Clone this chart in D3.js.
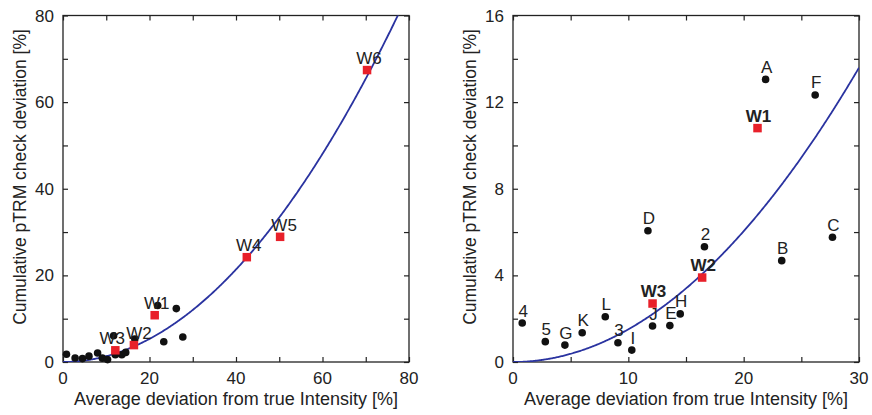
<!DOCTYPE html>
<html>
<head>
<meta charset="utf-8">
<script src="https://cdn.jsdelivr.net/npm/d3@7"></script>
<style>
  html, body { margin: 0; padding: 0; background: #fff; }
  svg { display: block; font-family: "Liberation Sans", Arial, sans-serif; }
</style>
</head>
<body>
<svg id="chart" width="872" height="415"></svg>
<script>
// Reference specimens: average deviation from true intensity (%) and cumulative pTRM check deviation (%)
const specimenNames = ["4", "5", "G", "K", "L", "3", "I", "D", "J", "E", "H", "2", "A", "B", "F", "C"];
const specimenX = [0.8, 2.8, 4.5, 6.0, 8.0, 9.1, 10.3, 11.7, 12.1, 13.6, 14.5, 16.6, 21.9, 23.3, 26.2, 27.7];
const specimenY = [1.8, 0.94, 0.78, 1.35, 2.09, 0.89, 0.55, 6.06, 1.66, 1.68, 2.22, 5.32, 13.05, 4.68, 12.33, 5.76];

// W samples
const wNames = ["W1", "W2", "W3", "W4", "W5", "W6"];
const wX = [21.2, 16.4, 12.1, 42.5, 50.2, 70.3];
const wY = [10.8, 3.9, 2.7, 24.2, 28.9, 67.4];

// Power-law fits y = a * x^b for each panel
const fitLeft = { a: 0.01335, b: 2.0 };
const fitRight = { a: 0.0151, b: 2.0 };

// Axis tick values
const leftXTicks = [0, 20, 40, 60, 80];
const leftYTicks = [0, 20, 40, 60, 80];
const rightXTicks = [0, 10, 20, 30];
const rightYTicks = [0, 4, 8, 12, 16];

const xTitle = "Average deviation from true Intensity [%]";
const yTitle = "Cumulative pTRM check deviation [%]";

const svg = d3.select("#chart");

function panel(opts) {
  const { left, right, top, bottom, xMax, yMax, xTicks, yTicks, xMinorStep, yMinorStep,
          fit, wIdx, clipId } = opts;
  const x = d3.scaleLinear().domain([0, xMax]).range([left, right]);
  const y = d3.scaleLinear().domain([0, yMax]).range([bottom, top]);
  const g = svg.append("g");

  g.append("clipPath").attr("id", clipId)
    .append("rect").attr("x", left).attr("y", top)
    .attr("width", right - left).attr("height", bottom - top);

  // tick marks on all four sides, pointing inward
  const tickLen = 5;
  const xAll = d3.range(0, xMax + 1e-9, xMinorStep);
  const yAll = d3.range(0, yMax + 1e-9, yMinorStep);
  const axB = d3.axisBottom(x).tickValues(xAll).tickSizeInner(-tickLen).tickSizeOuter(0).tickFormat("");
  const axT = d3.axisTop(x).tickValues(xAll).tickSizeInner(-tickLen).tickSizeOuter(0).tickFormat("");
  const axL = d3.axisLeft(y).tickValues(yAll).tickSizeInner(-tickLen).tickSizeOuter(0).tickFormat("");
  const axR = d3.axisRight(y).tickValues(yAll).tickSizeInner(-tickLen).tickSizeOuter(0).tickFormat("");
  [[axB, `translate(0,${bottom})`], [axT, `translate(0,${top})`],
   [axL, `translate(${left},0)`], [axR, `translate(${right},0)`]].forEach(([ax, tr]) => {
    const a = g.append("g").attr("transform", tr).call(ax);
    a.select(".domain").remove();
    a.selectAll(".tick line").attr("stroke", "#222").attr("stroke-width", 1.2);
  });

  // tick labels
  g.selectAll(".xl").data(xTicks).join("text")
    .attr("x", d => x(d)).attr("y", bottom + 21.5)
    .attr("text-anchor", "middle").attr("font-size", 17).attr("fill", "#222")
    .text(d => d);
  g.selectAll(".yl").data(yTicks).join("text")
    .attr("x", left - 9).attr("y", d => y(d) + 6)
    .attr("text-anchor", "end").attr("font-size", 17).attr("fill", "#222")
    .text(d => d);

  // frame
  g.append("rect").attr("x", left).attr("y", top)
    .attr("width", right - left).attr("height", bottom - top)
    .attr("fill", "none").attr("stroke", "#222").attr("stroke-width", 1.3);

  // fitted curve
  const xs = d3.range(0, xMax + 1e-9, xMax / 400);
  const line = d3.line().x(d => x(d)).y(d => y(fit.a * Math.pow(d, fit.b)));
  g.append("path").datum(xs).attr("d", line)
    .attr("clip-path", `url(#${clipId})`)
    .attr("fill", "none").attr("stroke", "#2a33a0").attr("stroke-width", 1.8);

  // specimen dots
  g.selectAll(".dot").data(specimenX).join("circle")
    .attr("cx", d => x(d)).attr("cy", (d, i) => y(specimenY[i]))
    .attr("r", 3.8).attr("fill", "#111");

  // W squares
  const sq = 8.5;
  g.selectAll(".sq").data(wIdx).join("rect")
    .attr("x", i => x(wX[i]) - sq / 2).attr("y", i => y(wY[i]) - sq / 2)
    .attr("width", sq).attr("height", sq).attr("fill", "#e8202a");

  return { x, y, g };
}

// Left panel: all W samples, only W points labelled
const L = panel({
  left: 63, right: 409, top: 15.5, bottom: 362,
  xMax: 80, yMax: 80, xTicks: leftXTicks, yTicks: leftYTicks,
  xMinorStep: 10, yMinorStep: 10, fit: fitLeft,
  wIdx: [0, 1, 2, 3, 4, 5], clipId: "clipL"
});
const leftWOffsets = { W1: 2, W2: 5, W3: -3, W4: 2, W5: 4, W6: 2 };
L.g.selectAll(".wl").data([0, 1, 2, 3, 4, 5]).join("text")
  .attr("x", i => L.x(wX[i]) + leftWOffsets[wNames[i]])
  .attr("y", i => L.y(wY[i]) - 6)
  .attr("text-anchor", "middle").attr("font-size", 17).attr("fill", "#222")
  .text(i => wNames[i]);

// Right panel: specimens up to 30 %, labelled, plus W1–W3
const R = panel({
  left: 513, right: 859, top: 15.5, bottom: 362,
  xMax: 30, yMax: 16, xTicks: rightXTicks, yTicks: rightYTicks,
  xMinorStep: 5, yMinorStep: 2, fit: fitRight,
  wIdx: [0, 1, 2], clipId: "clipR"
});
R.g.selectAll(".sl").data(specimenNames).join("text")
  .attr("x", (d, i) => R.x(specimenX[i]) + 1)
  .attr("y", (d, i) => R.y(specimenY[i]) - 6.5)
  .attr("text-anchor", "middle").attr("font-size", 17).attr("fill", "#222")
  .text(d => d);
R.g.selectAll(".wl").data([0, 1, 2]).join("text")
  .attr("x", i => R.x(wX[i]) + 1)
  .attr("y", i => R.y(wY[i]) - 6.5)
  .attr("text-anchor", "middle").attr("font-size", 17).attr("font-weight", "bold").attr("fill", "#222")
  .text(i => wNames[i]);

// axis titles
[[236, 20], [686, 470]].forEach(([cx, yx]) => {
  svg.append("text").attr("x", cx).attr("y", 404.5)
    .attr("text-anchor", "middle").attr("font-size", 18).attr("fill", "#222")
    .text(xTitle);
  svg.append("text").attr("transform", `translate(${yx},177) rotate(-90)`)
    .attr("text-anchor", "middle").attr("dy", "0.35em").attr("font-size", 17.5).attr("fill", "#222")
    .text(yTitle);
});
</script>
</body>
</html>
